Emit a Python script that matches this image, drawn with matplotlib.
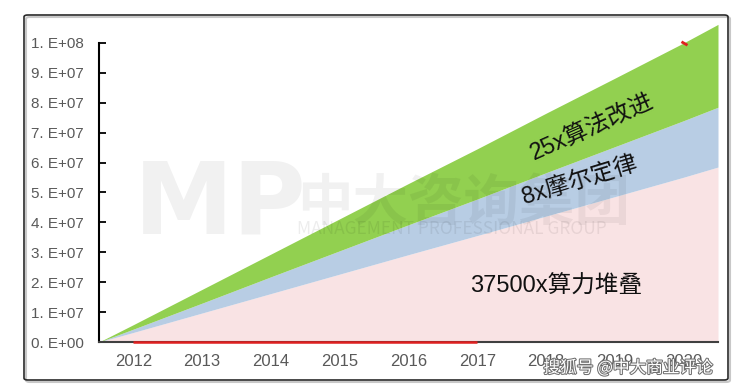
import matplotlib
matplotlib.use("Agg")
import matplotlib.pyplot as plt
from matplotlib.patches import FancyBboxPatch
import matplotlib.patheffects as pe
import numpy as np

plt.rcParams['font.family'] = ['Liberation Sans', 'Noto Sans CJK SC', 'DejaVu Sans']

# categories (years) and stacked series
years = ['2012', '2013', '2014', '2015', '2016', '2017', '2018', '2019', '2020']
# area edges: start at 0 on the left edge, end value at the right edge
compute = [0, 3.2e6, 9.7e6, 1.62e7, 2.27e7, 2.92e7, 3.56e7, 4.21e7, 4.86e7, 5.51e7, 5.85e7]   # 37500x算力堆叠
moore   = [0, 1.1e6, 3.3e6, 5.6e6, 7.8e6, 1.00e7, 1.22e7, 1.45e7, 1.67e7, 1.89e7, 2.00e7]     # 8x摩尔定律
algo    = [0, 1.5e6, 4.6e6, 7.6e6, 1.07e7, 1.38e7, 1.68e7, 1.99e7, 2.29e7, 2.60e7, 2.77e7]    # 25x算法改进
red_line = [0, 0, 0, 0, 0, 0]          # 2012-2017
red_top = 1.0e8                          # mark at 2020

yticks = [0, 1e7, 2e7, 3e7, 4e7, 5e7, 6e7, 7e7, 8e7, 9e7, 1e8]

fig = plt.figure(figsize=(7.42, 3.89), dpi=100)
ax = fig.add_axes([99 / 742, 47 / 389, 619 / 742, 323 / 389])

x_edge = np.concatenate([[-0.5], np.arange(len(years)), [len(years) - 0.5]])
c = np.array(compute)
m = c + np.array(moore)
a = m + np.array(algo)

ax.fill_between(x_edge, 0, c, color='#F9E3E4', lw=0, zorder=1)
ax.fill_between(x_edge, c, m, color='#B8CDE4', lw=0, zorder=1)
ax.fill_between(x_edge, m, a, color='#92D050', lw=0, zorder=1)

ax.plot(np.arange(len(red_line)), red_line, color='#E02020', lw=1.8, zorder=4,
        solid_capstyle='butt', clip_on=False)
ax.plot([len(years) - 1], [red_top], marker=(2, 0, 60), color='#E02020', ms=5, mew=2, zorder=4)

ax.set_xlim(-0.5, len(years) - 0.5)
ax.set_ylim(0, 1.08e8)

ax.set_xticks(np.arange(len(years)))
ax.set_xticklabels(years)
ax.set_yticks(yticks)
ax.set_yticklabels([f"{int(v / 10 ** (len(str(int(v))) - 1)) if v else 0}. E+{(len(str(int(v))) - 1) if v else 0:02d}" for v in yticks])

ax.tick_params(axis='x', length=0, pad=9, labelsize=12, labelcolor='#595959')
ax.tick_params(axis='y', direction='in', length=5, width=1.3, pad=11, labelsize=11, labelcolor='#595959')

for s in ['top', 'right']:
    ax.spines[s].set_visible(False)
ax.spines['left'].set_bounds(0, 1e8)
ax.spines['left'].set_linewidth(1.5)
ax.spines['left'].set_zorder(3)
ax.spines['bottom'].set_color('#404040')
ax.spines['bottom'].set_linewidth(1.5)
ax.spines['bottom'].set_zorder(3)

# annotations
ax.text(6.67, 7.16e7, '25x算法改进', rotation=24, ha='center', va='center',
        fontsize=17, color='#111111', zorder=6, rotation_mode='anchor')
ax.text(6.49, 5.42e7, '8x摩尔定律', rotation=17, ha='center', va='center',
        fontsize=17, color='#111111', zorder=6, rotation_mode='anchor')
ax.text(6.14, 1.84e7, '37500x算力堆叠', ha='center', va='center',
        fontsize=17, color='#111111', zorder=6)

# watermark
fig.text(134 / 742, 1 - 233 / 389, 'MP', fontsize=72, fontweight='bold', color='black',
         alpha=0.055, family='DejaVu Sans', ha='left', va='baseline', zorder=5)
fig.text(297 / 742, 1 - 220 / 389, '中大咨询集团', fontsize=40, fontweight='bold', color='black',
         alpha=0.055, family=['Noto Sans CJK SC'], ha='left', va='baseline', zorder=5)
fig.text(297 / 742, 1 - 234 / 389, 'MANAGEMENT PROFESSIONAL GROUP', fontsize=12.5, color='black',
         alpha=0.07, family=['Noto Sans CJK SC'], ha='left', va='baseline', zorder=5)
fig.text(628 / 742, 1 - 368 / 389, '搜狐号 @中大商业评论', fontsize=12, color='white',
         family=['Noto Sans CJK SC'], ha='center', va='center', zorder=10,
         path_effects=[pe.withStroke(linewidth=1.5, foreground='#707070')])

# outer frame with shadow
fig.patches.append(FancyBboxPatch((26 / 742, 1 - 382 / 389), 704 / 742, 365 / 389,
                                  boxstyle='round,pad=0,rounding_size=0.005',
                                  transform=fig.transFigure, fc='none', ec='#C8C8C8', lw=1.5, zorder=0))
fig.patches.append(FancyBboxPatch((24 / 742, 1 - 380 / 389), 704 / 742, 365 / 389,
                                  boxstyle='round,pad=0,rounding_size=0.005',
                                  transform=fig.transFigure, fc='none', ec='#2A2A2A', lw=1.2, zorder=0))

fig.savefig('out.png', dpi=100)
